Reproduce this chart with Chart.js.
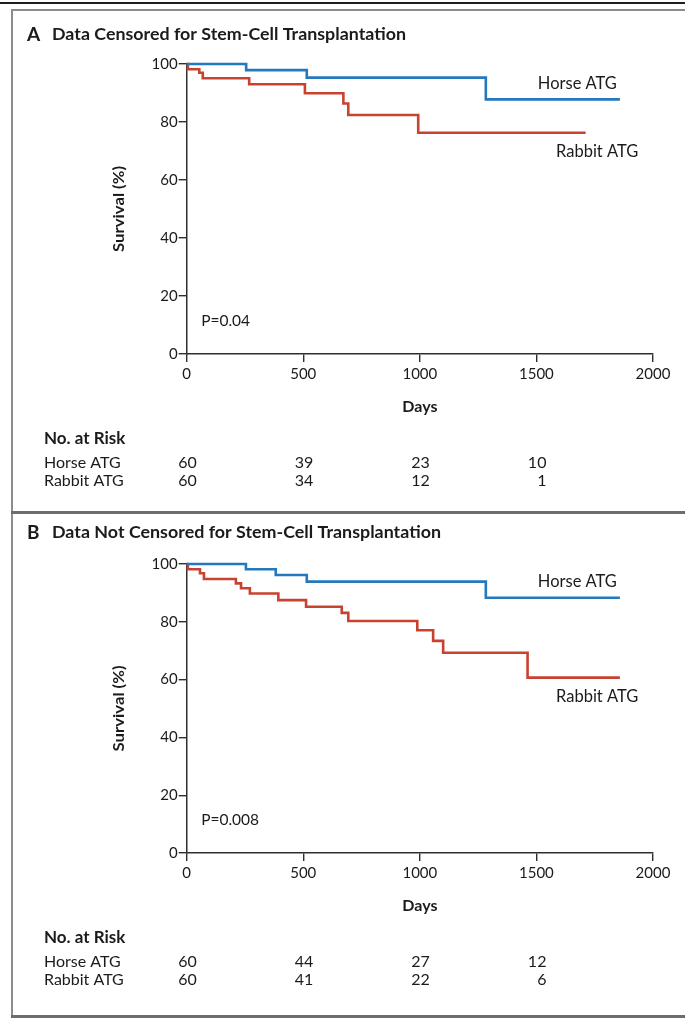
<!DOCTYPE html>
<html>
<head>
<meta charset="utf-8">
<script src="https://cdn.jsdelivr.net/npm/chart.js@4.4.1/dist/chart.umd.min.js"></script>
<style>
  html, body { margin: 0; padding: 0; background: #fff; }
  #page { position: relative; width: 685px; height: 1021px; overflow: hidden; background: #fff; }
  .rule { position: absolute; }
  canvas { position: absolute; left: 0; }
</style>
</head>
<body>
<div id="page">
  <div class="rule" style="left:0;top:2px;width:685px;height:2px;background:#1f1f1f"></div>
  <div class="rule" style="left:11px;top:9px;width:674px;height:2px;background:#8c8c8c"></div>
  <div class="rule" style="left:11px;top:9px;width:2px;height:1009px;background:#8c8c8c"></div>
  <div class="rule" style="left:11px;top:511px;width:674px;height:3px;background:#6d6d6d"></div>
  <div class="rule" style="left:11px;top:1015px;width:674px;height:3px;background:#6d6d6d"></div>
  <canvas id="panelA" width="685" height="496" style="top:14px"></canvas>
  <canvas id="panelB" width="685" height="498" style="top:515px"></canvas>
</div>
<script>
// Axis ticks and risk-table columns
const dayTicks = [0, 500, 1000, 1500, 2000];
const survivalTicks = [0, 20, 40, 60, 80, 100];
const riskDays = [0, 500, 1000, 1500];
const groupNames = ['Horse ATG', 'Rabbit ATG'];

// Panel A: data censored for stem-cell transplantation
const horseDaysA = [0, 255, 515, 1283, 1858];
const horseSurvA = [100, 97.9, 95.3, 87.8, 87.8];
const rabbitDaysA = [0, 5, 54, 69, 268, 507, 672, 693, 993, 1711];
const rabbitSurvA = [100, 98.2, 97.0, 95.1, 93.0, 89.9, 86.4, 82.4, 76.3, 76.3];
const horseRiskA = [60, 39, 23, 10];
const rabbitRiskA = [60, 34, 12, 1];

// Panel B: data not censored for stem-cell transplantation
const horseDaysB = [0, 254, 382, 515, 1283, 1858];
const horseSurvB = [100, 98.2, 96.2, 93.9, 88.3, 88.3];
const rabbitDaysB = [0, 5, 57, 74, 211, 233, 271, 393, 512, 665, 693, 989, 1057, 1100, 1462, 1858];
const rabbitSurvB = [100, 98.2, 96.8, 94.8, 93.3, 91.6, 89.8, 87.5, 85.2, 83.1, 80.3, 77.1, 73.4, 69.3, 60.7, 60.7];
const horseRiskB = [60, 44, 27, 12];
const rabbitRiskB = [60, 41, 22, 6];

const INK = '#1c1a1b';
const AXIS = '#2e2e2e';
const HORSE_COLOR = '#2378be';
const RABBIT_COLOR = '#c8432f';

function toPoints(days, surv) {
  return days.map((d, i) => ({ x: d, y: surv[i] }));
}

// Draw text squeezed/stretched horizontally to a given width
function fitText(ctx, text, x, y, font, width) {
  ctx.save();
  ctx.font = font;
  const w = ctx.measureText(text).width;
  ctx.translate(x, y);
  ctx.scale(width / w, 1);
  ctx.textAlign = 'left';
  ctx.fillText(text, 0, 0);
  ctx.restore();
}

const panelText = {
  id: 'panelText',
  afterDraw(chart, args, o) {
    const ctx = chart.ctx;
    const xs = chart.scales.x;
    const ys = chart.scales.y;
    const ca = chart.chartArea;
    ctx.save();
    ctx.fillStyle = INK;
    ctx.textBaseline = 'middle';

    // panel heading
    ctx.textAlign = 'left';
    ctx.font = 'bold 19px Lato';
    ctx.fillText(o.letter, 27, o.titleY);
    fitText(ctx, o.title, 52, o.titleY, 'bold 17px Lato', o.titleWidth);

    // axis titles
    ctx.textAlign = 'center';
    ctx.font = 'bold 16px Lato';
    ctx.fillText('Days', xs.getPixelForValue(1000), ca.bottom + 52.5);
    ctx.save();
    ctx.translate(119, (ca.top + ca.bottom) / 2);
    ctx.rotate(-Math.PI / 2);
    fitText(ctx, 'Survival (%)', -43, 0, 'bold 16px Lato', 86);
    ctx.restore();

    // P value
    ctx.textAlign = 'left';
    ctx.font = '15.5px Lato';
    ctx.fillText(o.pValue, xs.getPixelForValue(62), ys.getPixelForValue(11.5));

    // curve labels
    const h = chart.data.datasets[0].data;
    const r = chart.data.datasets[1].data;
    ctx.font = '16.5px Lato';
    ctx.textAlign = 'right';
    ctx.fillText(groupNames[0], xs.getPixelForValue(1845), ys.getPixelForValue(h[h.length - 1].y) - 16);
    ctx.textAlign = 'left';
    ctx.fillText(groupNames[1], xs.getPixelForValue(1584), ys.getPixelForValue(r[r.length - 1].y) + 19);

    // number at risk
    const y0 = ca.bottom + 85;
    const y1 = ca.bottom + 108.5;
    const y2 = ca.bottom + 127;
    ctx.textAlign = 'left';
    ctx.font = 'bold 17px Lato';
    ctx.fillText('No. at Risk', 44, y0);
    ctx.font = '16px Lato';
    ctx.fillText(groupNames[0], 44, y1);
    ctx.fillText(groupNames[1], 44, y2);
    ctx.textAlign = 'right';
    riskDays.forEach((d, i) => {
      const x = xs.getPixelForValue(d) + 10;
      ctx.fillText(String(o.horseRisk[i]), x, y1);
      ctx.fillText(String(o.rabbitRisk[i]), x, y2);
    });
    ctx.restore();
  }
};

function makePanel(id, cfg) {
  const canvas = document.getElementById(id);
  const H = canvas.height;
  const xAxisHeight = 40;
  const yAxisWidth = 60;
  const plotLeft = 186.7;
  const plotRight = 653;
  const tickFont = { family: 'Lato', size: 15 };
  const plain = (v) => String(v);

  return new Chart(canvas, {
    type: 'line',
    data: {
      datasets: [
        {
          label: groupNames[0],
          data: toPoints(cfg.horseDays, cfg.horseSurv),
          borderColor: HORSE_COLOR,
          borderWidth: 2.6,
          stepped: 'before',
          pointRadius: 0,
          fill: false,
          clip: false
        },
        {
          label: groupNames[1],
          data: toPoints(cfg.rabbitDays, cfg.rabbitSurv),
          borderColor: RABBIT_COLOR,
          borderWidth: 2.6,
          stepped: 'before',
          pointRadius: 0,
          fill: false,
          clip: false
        }
      ]
    },
    options: {
      responsive: false,
      animation: false,
      devicePixelRatio: 1,
      layout: {
        padding: {
          left: plotLeft - yAxisWidth,
          right: 685 - plotRight,
          top: cfg.plotTop,
          bottom: H - cfg.plotBottom - xAxisHeight
        }
      },
      plugins: {
        legend: { display: false },
        tooltip: { enabled: false },
        panelText: {
          letter: cfg.letter,
          title: cfg.title,
          titleY: cfg.titleY,
          titleWidth: cfg.titleWidth,
          pValue: cfg.pValue,
          horseRisk: cfg.horseRisk,
          rabbitRisk: cfg.rabbitRisk
        }
      },
      scales: {
        x: {
          type: 'linear',
          min: dayTicks[0],
          max: dayTicks[dayTicks.length - 1],
          afterBuildTicks: (s) => { s.ticks = dayTicks.map(v => ({ value: v })); },
          afterFit: (s) => { s.height = xAxisHeight; },
          ticks: { font: tickFont, color: INK, padding: 3, maxRotation: 0, autoSkip: false, callback: plain },
          grid: { drawOnChartArea: false, drawTicks: true, tickLength: 8, color: AXIS, lineWidth: 1.4 },
          border: { display: true, color: AXIS, width: 1.5 }
        },
        y: {
          type: 'linear',
          min: survivalTicks[0],
          max: survivalTicks[survivalTicks.length - 1],
          afterBuildTicks: (s) => { s.ticks = survivalTicks.map(v => ({ value: v })); },
          afterFit: (s) => { s.width = yAxisWidth; },
          ticks: { font: tickFont, color: INK, padding: 1, callback: plain },
          grid: { drawOnChartArea: false, drawTicks: true, tickLength: 8, color: AXIS, lineWidth: 1.4 },
          border: { display: true, color: AXIS, width: 1.5 }
        }
      }
    },
    plugins: [panelText]
  });
}

makePanel('panelA', {
  letter: 'A',
  title: 'Data Censored for Stem-Cell Transplantation',
  titleY: 21,
  titleWidth: 354,
  pValue: 'P=0.04',
  plotTop: 50,
  plotBottom: 340,
  horseDays: horseDaysA, horseSurv: horseSurvA,
  rabbitDays: rabbitDaysA, rabbitSurv: rabbitSurvA,
  horseRisk: horseRiskA, rabbitRisk: rabbitRiskA
});

makePanel('panelB', {
  letter: 'B',
  title: 'Data Not Censored for Stem-Cell Transplantation',
  titleY: 18,
  titleWidth: 389,
  pValue: 'P=0.008',
  plotTop: 49,
  plotBottom: 338,
  horseDays: horseDaysB, horseSurv: horseSurvB,
  rabbitDays: rabbitDaysB, rabbitSurv: rabbitSurvB,
  horseRisk: horseRiskB, rabbitRisk: rabbitRiskB
});
</script>
</body>
</html>
